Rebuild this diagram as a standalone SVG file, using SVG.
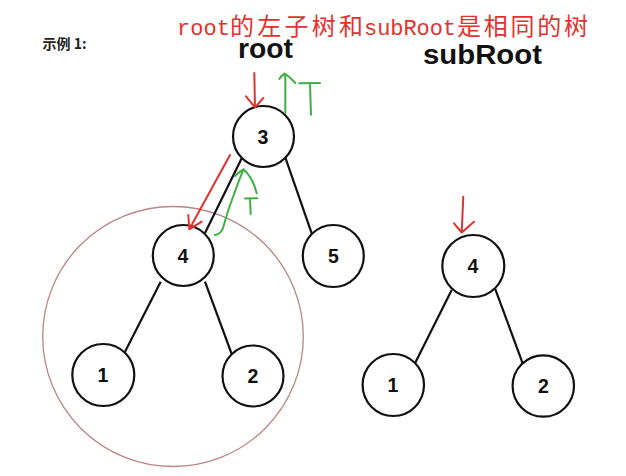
<svg xmlns="http://www.w3.org/2000/svg" width="626" height="476" viewBox="0 0 626 476">
<style>
.node ellipse{fill:#fff;stroke:#111;stroke-width:2.2}
.node text{font-family:"Liberation Sans",Arial,sans-serif;font-weight:bold;font-size:19.5px;fill:#111;text-anchor:middle}
.edge{stroke:#111;stroke-width:2.2;fill:none}
.red{stroke:#e2322f;stroke-width:2;fill:none;stroke-linecap:round;stroke-linejoin:round}
.green{stroke:#3fae45;stroke-width:2;fill:none;stroke-linecap:round;stroke-linejoin:round}
.lbl{font-family:"Liberation Sans",Arial,sans-serif;font-weight:bold;fill:#111}
.title{fill:#e2322f}
.lat{font-family:"Liberation Mono","Courier New",monospace;font-size:22px}
.cjk{font-family:"Noto Sans CJK SC","Noto Sans CJK JP",sans-serif;font-size:24px}
</style>
<rect width="626" height="476" fill="#fff"/>
<text x="42.5" y="49" font-size="14" font-weight="bold" fill="#222" textLength="44" lengthAdjust="spacingAndGlyphs" style="font-family:'Noto Sans CJK SC','Noto Sans CJK JP',sans-serif">示例 1:</text>
<text class="title" y="35"><tspan class="lat" x="177" textLength="53">root</tspan><tspan class="cjk" x="230" textLength="133" lengthAdjust="spacing">的左子树和</tspan><tspan class="lat" x="364" textLength="92">subRoot</tspan><tspan class="cjk" x="457" textLength="131" lengthAdjust="spacing">是相同的树</tspan></text>
<text x="238" y="58" class="lbl" font-size="27" textLength="55" lengthAdjust="spacingAndGlyphs">root</text>
<text x="423" y="64" class="lbl" font-size="27" textLength="119" lengthAdjust="spacingAndGlyphs">subRoot</text>
<ellipse id="highlight" cx="173" cy="336.5" rx="130.3" ry="130" fill="none" stroke="#b98585" stroke-width="1.3"/>
<g id="connectors">
<line class="edge" x1="241.7" y1="158.3" x2="205" y2="233"/>
<line class="edge" x1="285" y1="156.7" x2="311.7" y2="233.3"/>
<line class="edge" x1="160.7" y1="281.7" x2="125" y2="351.7"/>
<line class="edge" x1="205" y1="281.7" x2="231.7" y2="354"/>
<line class="edge" x1="451.7" y1="290" x2="415" y2="363.3"/>
<line class="edge" x1="495" y1="288.3" x2="522.7" y2="363.3"/>
</g>
<g id="n3" class="node"><ellipse cx="263.5" cy="136.5" rx="30.5" ry="30.5"/><text x="263" y="143.5">3</text></g>
<g id="n4" class="node"><ellipse cx="183.3" cy="255.5" rx="30.5" ry="30.5"/><text x="183" y="262.5">4</text></g>
<g id="n5" class="node"><ellipse cx="333.3" cy="256" rx="30.5" ry="31"/><text x="333.5" y="263">5</text></g>
<g id="n1" class="node"><ellipse cx="103.3" cy="375" rx="31" ry="31"/><text x="103" y="382">1</text></g>
<g id="n2" class="node"><ellipse cx="253" cy="376" rx="30.5" ry="30.5"/><text x="253" y="383">2</text></g>
<g id="s4" class="node"><ellipse cx="473.3" cy="266" rx="31" ry="31"/><text x="473" y="273">4</text></g>
<g id="s1" class="node"><ellipse cx="393.3" cy="385" rx="30.7" ry="31"/><text x="393" y="392">1</text></g>
<g id="s2" class="node"><ellipse cx="543.3" cy="386" rx="30.7" ry="30.7"/><text x="543.5" y="393">2</text></g>
<g id="marks">
<path class="red" d="M254.3,73 L255,107.3 M246,96.3 L255,107.3 L263.3,98"/>
<path class="green" d="M285.3,113 L285.3,74 M279.3,79 Q282,75 284.8,73.5 Q290,77 295.3,83"/>
<path class="green" d="M299.3,83.2 L320,83 M310,84 L311,114.7"/>
<path class="red" d="M230,155 L189.3,229.3 M188.3,215 L189.3,229.3 L201.7,221.7"/>
<path class="green" d="M215,235 Q221,234 223,228 Q228,210 233,197 Q239,180 243.5,169.3 M235,176 Q239,172 243.5,169.3 Q253,178 256.7,193.3"/>
<path class="green" d="M245,198.5 L257.3,198.3 M250,199.3 L250.7,214"/>
<path class="red" d="M463.3,196.7 L461.7,232 M454,223.3 L461.7,232.5 L474,221.7"/>
</g>
</svg>
